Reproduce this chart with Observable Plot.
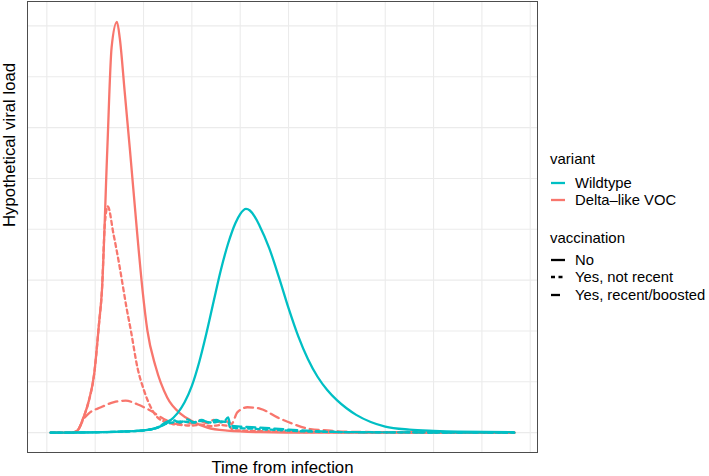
<!DOCTYPE html>
<html>
<head>
<meta charset="utf-8">
<script src="https://cdn.jsdelivr.net/npm/d3@7"></script>
<script src="https://cdn.jsdelivr.net/npm/@observablehq/plot@0.6"></script>
<style>
  body { margin: 0; background: #fff; font-family: "Liberation Sans", Arial, Helvetica, sans-serif; }
  #wrap { position: relative; width: 709px; height: 476px; }
  .legend { position: absolute; left: 550px; color: #000; }
  .ltitle { position: absolute; font-size: 15px; white-space: nowrap; transform: translateY(-50%); }
  .item { position: absolute; white-space: nowrap; font-size: 14.8px; transform: translateY(-50%); display: flex; align-items: center; }
  .item svg { margin-right: 10px; }
</style>
</head>
<body>
<div id="wrap"></div>
<script>
// ---- data (x: time units, y: viral load units) ----
const variants = ["Wildtype", "Delta\u2013like VOC"];
const vaccinations = ["No", "Yes, not recent", "Yes, recent/boosted"];
const variantColors = ["#00BFC4", "#F8766D"];
const vaccDash = [null, "4,3.5", "9,5"];

const deltaNo = [[0.08,0],[0.5,0],[0.63,0.04],[0.77,0.33],[0.87,0.63],[0.98,1.16],[1.08,2.15],[1.14,2.8],[1.25,5.55],[1.34,7.58],[1.45,8.08],[1.51,7.75],[1.61,6.71],[1.72,5.55],[1.87,3.91],[1.98,2.8],[2.08,2.01],[2.25,1.3],[2.49,0.69],[2.77,0.37],[2.98,0.24],[3.32,0.1],[3.73,0.04],[4.42,0.01],[5.5,0],[9.67,0]];
const deltaNotRecent = [[0.08,0],[0.5,0],[0.63,0.04],[0.77,0.33],[0.87,0.63],[0.98,1.16],[1.08,2.15],[1.14,2.8],[1.2,4.1],[1.26,4.45],[1.38,3.9],[1.49,3.35],[1.57,2.9],[1.65,2.45],[1.74,2.0],[1.87,1.3],[2.01,0.83],[2.15,0.5],[2.29,0.3],[2.49,0.2],[2.6,0.17],[2.8,0.15],[3.0,0.14],[3.2,0.16],[3.4,0.13],[3.6,0.15],[3.78,0.12],[3.85,0.05],[4.5,0.03],[5.5,0.01],[9.67,0]];
const deltaRecent = [[0.08,0],[0.5,0],[0.63,0.04],[0.77,0.28],[0.87,0.38],[1.12,0.5],[1.39,0.6],[1.63,0.63],[1.87,0.56],[2.15,0.43],[2.42,0.27],[2.7,0.17],[2.85,0.22],[3.0,0.18],[3.15,0.24],[3.3,0.19],[3.45,0.25],[3.6,0.2],[3.75,0.22],[3.82,0.17],[3.94,0.4],[4.15,0.5],[4.42,0.47],[4.77,0.3],[5.1,0.17],[5.45,0.07],[5.87,0.04],[6.14,0.02],[7.0,0.01],[9.67,0]];
const wildNo = [[0.08,0],[1.12,0.01],[1.94,0.04],[2.29,0.1],[2.5,0.2],[2.7,0.38],[2.85,0.6],[3.0,0.92],[3.15,1.38],[3.3,1.95],[3.45,2.58],[3.6,3.2],[3.75,3.72],[3.9,4.12],[4.0,4.3],[4.12,4.4],[4.2,4.37],[4.3,4.25],[4.4,4.07],[4.6,3.63],[4.8,3.06],[5.0,2.45],[5.2,1.9],[5.4,1.45],[5.6,1.1],[5.8,0.84],[6.0,0.64],[6.2,0.48],[6.4,0.35],[6.7,0.21],[7.0,0.12],[7.5,0.06],[8.0,0.035],[8.5,0.02],[9.65,0.01]];
const wildNotRecent = [[0.08,0],[1.12,0.01],[1.94,0.04],[2.29,0.1],[2.45,0.17],[2.6,0.2],[2.8,0.22],[3.0,0.2],[3.2,0.23],[3.4,0.2],[3.6,0.22],[3.75,0.2],[3.8,0.1],[4.2,0.08],[4.8,0.05],[5.5,0.02],[6.5,0.01],[9.67,0]];
const wildRecent = [[0.08,0],[1.12,0.01],[1.94,0.04],[2.29,0.1],[2.45,0.2],[2.6,0.25],[2.75,0.2],[2.9,0.26],[3.05,0.2],[3.2,0.25],[3.35,0.2],[3.5,0.25],[3.65,0.2],[3.75,0.3],[3.8,0.14],[4.0,0.12],[4.4,0.1],[5.0,0.06],[5.6,0.03],[6.2,0.01],[9.67,0]];

const xGrid = d3.range(0, 11);
const yGrid = d3.range(0, 9);

const seriesList = [
  {v: 1, k: 1, pts: deltaNotRecent},
  {v: 1, k: 2, pts: deltaRecent},
  {v: 1, k: 0, pts: deltaNo},
  {v: 0, k: 1, pts: wildNotRecent},
  {v: 0, k: 2, pts: wildRecent},
  {v: 0, k: 0, pts: wildNo}
];

const lineMarks = seriesList.map(s => Plot.line(s.pts, {
  x: d => d[0], y: d => d[1],
  stroke: variantColors[s.v], strokeWidth: 2.3,
  strokeDasharray: vaccDash[s.k], curve: "monotone-x"
}));

const chart = Plot.plot({
  width: 709, height: 476,
  marginLeft: 27, marginRight: 172, marginTop: 1, marginBottom: 24,
  style: {fontFamily: "'Liberation Sans', Arial, Helvetica, sans-serif", background: "white"},
  x: {domain: [-0.40, 10.15], axis: null},
  y: {domain: [-0.39, 8.48], axis: null},
  marks: [
    Plot.ruleX(xGrid, {stroke: "#EBEBEB", strokeWidth: 1.1}),
    Plot.ruleY(yGrid, {stroke: "#EBEBEB", strokeWidth: 1.1}),
    ...lineMarks,
    Plot.frame({stroke: "#4d4d4d", strokeWidth: 1}),
    Plot.text(["Time from infection"], {frameAnchor: "bottom", dy: 15, fontSize: 16.8, fill: "#000", lineAnchor: "middle"}),
    Plot.text(["Hypothetical viral load"], {frameAnchor: "left", dx: -18, rotate: -90, fontSize: 16.8, fill: "#000", lineAnchor: "middle"})
  ]
});

const wrap = document.getElementById("wrap");
wrap.appendChild(chart);

// ---- legend ----
const legend = document.createElement("div");
legend.className = "legend";
legend.style.top = "0px";
function keySvg(color, dash) {
  return `<svg width="14" height="6"><line x1="0" x2="14" y1="3" y2="3" stroke="${color}" stroke-width="2.3" ${dash ? `stroke-dasharray="${dash}"` : ""}/></svg>`;
}
let html = `<div class="ltitle" style="top:158px;left:0">variant</div>`;
variants.forEach((v, i) => {
  html += `<div class="item" style="top:${183 + i * 17.3}px;left:1px">${keySvg(variantColors[i], null)}<span>${v}</span></div>`;
});
html += `<div class="ltitle" style="top:237px;left:0">vaccination</div>`;
vaccinations.forEach((v, i) => {
  html += `<div class="item" style="top:${260 + i * 17.3}px;left:1px">${keySvg("#000", vaccDash[i])}<span>${v}</span></div>`;
});
legend.innerHTML = html;
wrap.appendChild(legend);
</script>
</body>
</html>
